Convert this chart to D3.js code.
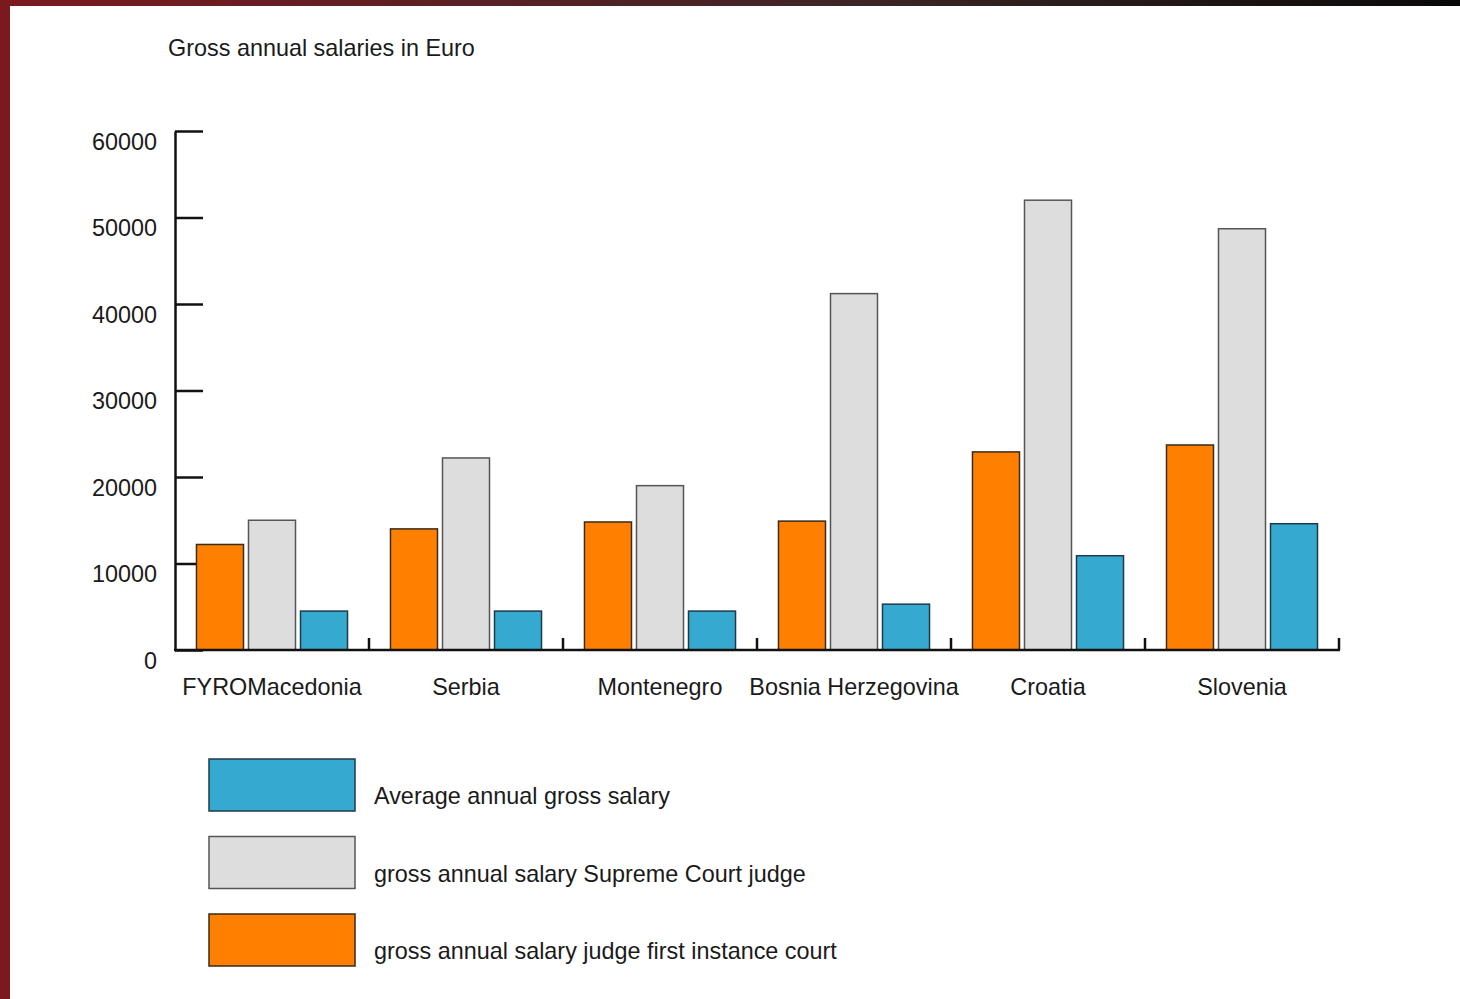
<!DOCTYPE html>
<html>
<head>
<meta charset="utf-8">
<script src="https://cdn.jsdelivr.net/npm/d3@7"></script>
<style>
  html, body { margin: 0; padding: 0; background: #fff; }
  svg { display: block; }
  text { font-family: "Liberation Sans", Arial, Helvetica, sans-serif; fill: #1a1a1a; }
</style>
</head>
<body>
<svg id="chart" width="1460" height="999"></svg>
<script>
// ---- data ----
const countries = ["FYROMacedonia", "Serbia", "Montenegro", "Bosnia Herzegovina", "Croatia", "Slovenia"];
const firstInstance = [12200, 14000, 14800, 14900, 22900, 23700];
const supremeCourt = [15000, 22200, 19000, 41200, 52000, 48700];
const averageSalary = [4500, 4500, 4500, 5300, 10900, 14600];
const yTicks = [0, 10000, 20000, 30000, 40000, 50000, 60000];
const seriesNames = ["gross annual salary judge first instance court", "gross annual salary Supreme Court judge", "Average annual gross salary"];
const seriesColors = ["#ff8000", "#dddddd", "#35a9cf"];
const seriesStrokes = ["#3a2a1a", "#555555", "#1f3a48"];
const legendOrder = [2, 1, 0];
const titleText = "Gross annual salaries in Euro";

const svg = d3.select("#chart");

// ---- frame (dark red -> black) ----
const defs = svg.append("defs");
const grad = defs.append("linearGradient").attr("id", "frameGrad").attr("x1", "0").attr("x2", "1").attr("y1", "0").attr("y2", "0");
grad.append("stop").attr("offset", "0").attr("stop-color", "#7b1a1e");
grad.append("stop").attr("offset", "0.6").attr("stop-color", "#3d2527");
grad.append("stop").attr("offset", "1").attr("stop-color", "#080808");
svg.append("rect").attr("x", 0).attr("y", 0).attr("width", 1460).attr("height", 6).attr("fill", "url(#frameGrad)");
svg.append("rect").attr("x", 0).attr("y", 0).attr("width", 10).attr("height", 999).attr("fill", "#7a1a1e");

// ---- scales ----
const x = d3.scaleBand().domain(countries).range([175, 1339]).paddingInner(0).paddingOuter(0);
const xs = d3.scaleBand().domain([0, 1, 2]).range([0, x.bandwidth()]).paddingInner(0.096).paddingOuter(0.413);
const y = d3.scaleLinear().domain([0, 60000]).range([650, 131]);

const fs = 23.4;

// ---- title ----
svg.append("text").attr("x", 168).attr("y", 56).attr("font-size", 23.4).text(titleText);

// ---- y axis ----
const yAxis = d3.axisLeft(y).tickValues(yTicks).tickFormat(d3.format("d"))
  .tickSizeInner(-28).tickSizeOuter(0).tickPadding(18);
const gy = svg.append("g").attr("transform", "translate(175,0)").call(yAxis);
gy.select(".domain").attr("stroke", "#111").attr("stroke-width", 2.5);
gy.selectAll(".tick line").attr("stroke", "#111").attr("stroke-width", 2.5);
gy.selectAll(".tick text").attr("font-size", fs).attr("font-family", "Liberation Sans, Arial, sans-serif").attr("fill", "#1a1a1a").attr("dy", "0.78em");

// ---- bars ----
const seriesValues = [firstInstance, supremeCourt, averageSalary];
seriesValues.forEach((vals, si) => {
  svg.append("g").selectAll("rect").data(countries).join("rect")
    .attr("x", (c) => x(c) + xs(si))
    .attr("width", xs.bandwidth())
    .attr("y", (c, i) => y(vals[i]))
    .attr("height", (c, i) => y(0) - y(vals[i]))
    .attr("fill", seriesColors[si])
    .attr("stroke", seriesStrokes[si])
    .attr("stroke-width", 1.5);
});

// ---- x axis ----
const xAxis = d3.axisBottom(x).tickSize(0).tickPadding(28);
const gx = svg.append("g").attr("transform", "translate(0,650)").call(xAxis);
gx.select(".domain").remove();
gx.selectAll(".tick text").attr("font-size", fs).attr("font-family", "Liberation Sans, Arial, sans-serif").attr("fill", "#1a1a1a");
svg.append("line").attr("x1", 174).attr("x2", 1340).attr("y1", 650).attr("y2", 650).attr("stroke", "#111").attr("stroke-width", 2.5);
svg.append("g").selectAll("line").data(countries).join("line")
  .attr("x1", (c) => x(c) + x.bandwidth()).attr("x2", (c) => x(c) + x.bandwidth())
  .attr("y1", 638).attr("y2", 650).attr("stroke", "#111").attr("stroke-width", 2.5);

// ---- legend ----
const lg = svg.append("g").selectAll("g").data(legendOrder).join("g")
  .attr("transform", (d, i) => `translate(209,${759 + i * 77.5})`);
lg.append("rect").attr("width", 146).attr("height", 52)
  .attr("fill", (d) => seriesColors[d]).attr("stroke", (d) => seriesStrokes[d]).attr("stroke-width", 1.5);
lg.append("text").attr("x", 165).attr("y", 45).attr("font-size", fs).text((d) => seriesNames[d]);
</script>
</body>
</html>
